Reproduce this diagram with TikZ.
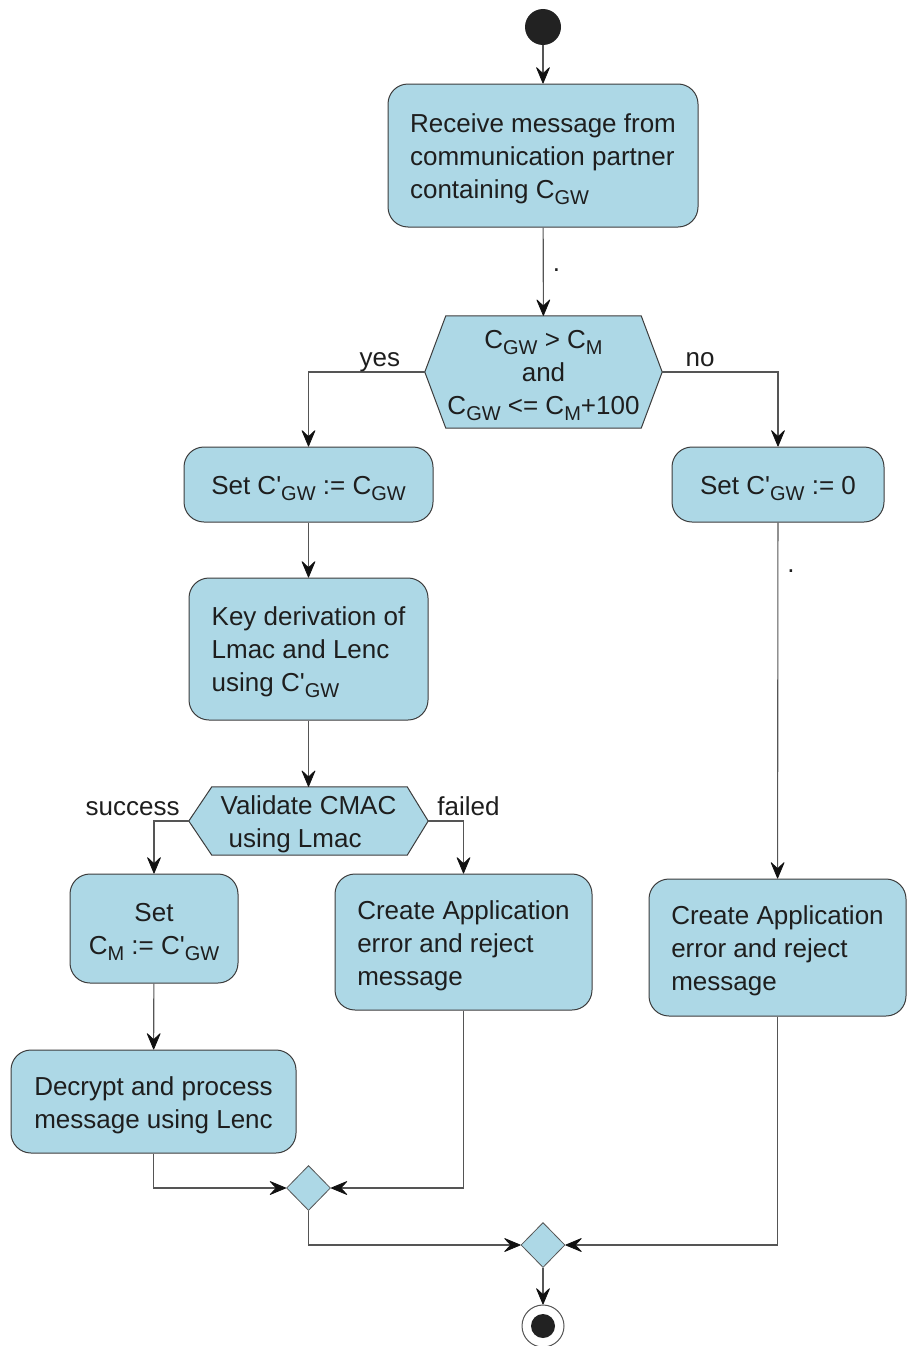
\documentclass[tikz,border=0pt]{standalone}
\usepackage{fontspec}
\setmainfont{Liberation Sans}
\usetikzlibrary{arrows.meta,calc,shapes.geometric,backgrounds}

% lowered, slightly smaller index text (C_GW, C_M)
\newcommand\subidx[1]{\raisebox{-6pt}{\fontsize{20}{20}\selectfont #1}}
\newcommand\pr{\textquotesingle}
% extra room above the first text line of a box
\newcommand\firststrut{\rule{0pt}{26pt}}

\definecolor{actfill}{HTML}{ADD8E6}
\definecolor{edgecol}{HTML}{3C3C3C}
\definecolor{linecol}{HTML}{555555}
\definecolor{tipcol}{HTML}{111111}
\definecolor{txtcol}{HTML}{1E1E1E}
\definecolor{dotcol}{HTML}{222222}

\tikzset{
  act/.style={draw=edgecol, line width=1pt, fill=actfill, rounded corners=20pt,
    align=left, text=txtcol, font=\fontsize{26}{33}\selectfont, inner sep=0pt},
  actc/.style={act, align=center},
  hexbox/.style={inner sep=0pt, align=center, text=txtcol,
    font=\fontsize{26}{33}\selectfont},
  hexfill/.style={draw=edgecol, line width=1pt, fill=actfill},
  merge/.style={diamond, draw=linecol, line width=0.8pt, fill=actfill, inner sep=0pt,
    minimum width=44pt, minimum height=45pt},
  flow/.style={draw=linecol, line width=1.1pt,
    -{Stealth[length=18pt, width=15pt, inset=7pt, line width=0.8pt, round,
      color=tipcol, fill=tipcol]}},
  lbl/.style={inner sep=0pt, text=txtcol, font=\fontsize{26}{33}\selectfont},
  startdot/.style={circle, fill=dotcol, minimum size=36pt, inner sep=0pt},
  endring/.style={circle, draw=linecol, line width=1pt, fill=white, minimum size=42pt, inner sep=0pt},
  enddot/.style={circle, fill=dotcol, minimum size=24pt, inner sep=0pt},
}

\begin{document}
\begin{tikzpicture}[x=1pt, y=-1pt]
\useasboundingbox (0,0) rectangle (910,1346);

% initial node
\node[startdot] (start) at (543,27) {};

% actions
\node[act, minimum width=310pt, minimum height=143pt] (recv) at (543,155.5)
  {\firststrut Receive message from\\communication partner\\containing C\subidx{GW}};

\node[hexbox, minimum width=237pt, minimum height=112pt] (dec1) at (543.5,372)
  {\firststrut C\subidx{GW} > C\subidx{M}\\and\\C\subidx{GW} <= C\subidx{M}+100};

\node[actc, minimum width=249pt, minimum height=75pt] (setc) at (308.5,484.5)
  {\firststrut Set C\pr\subidx{GW} := C\subidx{GW}};
\node[actc, minimum width=212pt, minimum height=75pt] (set0) at (778,484.5)
  {\firststrut Set C\pr\subidx{GW} := 0};

\node[act, minimum width=239pt, minimum height=142pt] (keyd) at (308.5,649)
  {\firststrut Key derivation of\\Lmac and Lenc\\using C\pr\subidx{GW}};

\node[hexbox, align=left, minimum width=239pt, minimum height=68pt] (dec2) at (308.5,821)
  {\firststrut Validate CMAC\\\hspace*{8pt}using Lmac};

\node[actc, minimum width=168pt, minimum height=109pt] (setm) at (154,928.5)
  {\firststrut Set\\C\subidx{M} := C\pr\subidx{GW}};
\node[act, minimum width=257pt, minimum height=136pt] (err1) at (463.5,942)
  {\firststrut Create Application\\error and reject\\message};
\node[act, minimum width=285pt, minimum height=103pt] (decr) at (153.5,1101.5)
  {\firststrut Decrypt and process\\message using Lenc};
\node[act, minimum width=257pt, minimum height=137pt] (err2) at (777.5,947.5)
  {\firststrut Create Application\\error and reject\\message};

% merge nodes and final node
\node[merge] (m1) at (308.5,1188) {};
\node[merge] (m2) at (543,1245) {};
\node[endring] (finish) at (543,1326) {};
\node[enddot] (finishdot) at (finish) {};

% decision outlines
\begin{scope}[on background layer]
  \path[hexfill] (dec1.west) -- ($(dec1.north west)+(21,0)$) -- ($(dec1.north east)+(-21,0)$)
    -- (dec1.east) -- ($(dec1.south east)+(-21,0)$) -- ($(dec1.south west)+(21,0)$) -- cycle;
  \path[hexfill] (dec2.west) -- ($(dec2.north west)+(23,0)$) -- ($(dec2.north east)+(-21,0)$)
    -- (dec2.east) -- ($(dec2.south east)+(-21,0)$) -- ($(dec2.south west)+(23,0)$) -- cycle;
\end{scope}

% control flow
\draw[flow] (start) -- (recv);
\draw[flow] (recv) -- node[lbl, anchor=base west, xshift=9pt] (dotA) {.} (dec1);
\draw[flow] (dec1.west) -| (setc.north);
\draw[flow] (dec1.east) -| (set0.north);
\draw[flow] (setc) -- (keyd);
\draw[flow] (keyd) -- (dec2);
\draw[flow] (dec2.west) -| (setm.north);
\draw[flow] (dec2.east) -| (err1.north);
\draw[flow] (setm) -- (decr);
\draw[flow] (decr.south) |- (m1.west);
\draw[flow] (err1.south) |- (m1.east);
\draw[flow] (m1.south) |- (m2.west);
\draw[flow] (err2.south) |- (m2.east);
\draw[flow] (m2) -- (finish);
\draw[flow] (set0) -- node[lbl, pos=0.14, anchor=base west, xshift=9pt] (dotB) {.} (err2);

% guard labels
\node[lbl, anchor=base] (lyes) at ($(dec1.west)+(-45,-6)$) {yes};
\node[lbl, anchor=base] (lno) at ($(dec1.east)+(38,-6)$) {no};
\node[lbl, anchor=base east] (lsucc) at ($(dec2.west)+(-9,-6)$) {success};
\node[lbl, anchor=base west] (lfail) at ($(dec2.east)+(9,-6)$) {failed};
\end{tikzpicture}
\end{document}
